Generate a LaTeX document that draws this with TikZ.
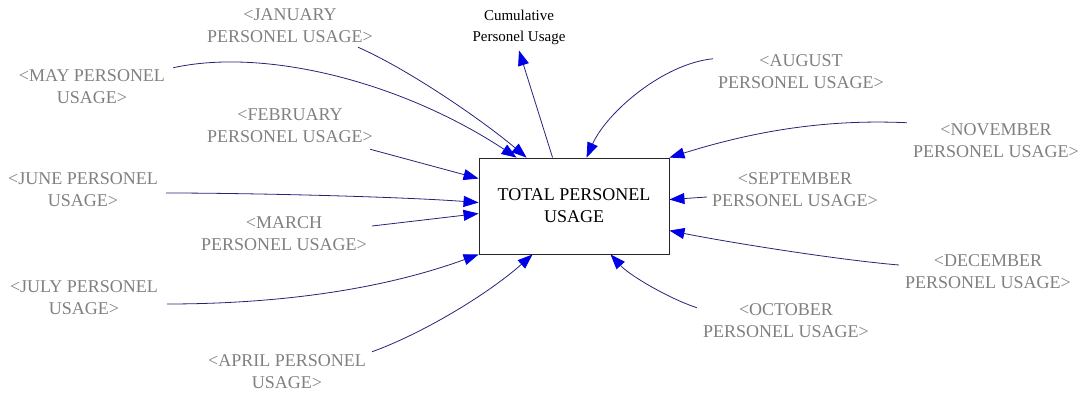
\documentclass[tikz,border=0pt]{standalone}
\usepackage{fontspec}
\setmainfont{Liberation Serif}
\usetikzlibrary{arrows.meta}
\definecolor{linkblue}{RGB}{36,36,120}
\definecolor{tipblue}{RGB}{0,0,230}
\definecolor{shadowgray}{RGB}{128,128,128}

\begin{document}
\begin{tikzpicture}[x=1pt,y=-1pt]
            \tikzstyle{every node}+=[inner sep=1pt]
            \tikzstyle{shadowvar}=[text=shadowgray, align=center, font=\fontsize{18}{22}\selectfont]
            \tikzstyle{link}=[draw=linkblue, line width=0.8pt, -{Triangle[length=15pt,width=11pt,color=tipblue]}]
            \useasboundingbox (0,0) rectangle (1084,395);
            % stock in the middle
            \node [draw=black!85, line width=0.9pt, minimum width=190pt, minimum height=96pt,
                   align=center, font=\fontsize{18}{22}\selectfont] (total) at (574,206) {TOTAL PERSONEL\\USAGE};
            \node [align=center, font=\fontsize{15}{21}\selectfont] (cum) at (519,27) {Cumulative\\Personel Usage};
            % monthly shadow variables
            \node [shadowvar] (jan) at (290,26) {<JANUARY\\PERSONEL USAGE>};
            \node [shadowvar] (may) at (92,87) {<MAY PERSONEL\\USAGE>};
            \node [shadowvar] (feb) at (290,126) {<FEBRUARY\\PERSONEL USAGE>};
            \node [shadowvar] (jun) at (83,190) {<JUNE PERSONEL\\USAGE>};
            \node [shadowvar] (mar) at (284,234) {<MARCH\\PERSONEL USAGE>};
            \node [shadowvar] (jul) at (84,298) {<JULY PERSONEL\\USAGE>};
            \node [shadowvar] (apr) at (287,372) {<APRIL PERSONEL\\USAGE>};
            \node [shadowvar] (aug) at (801,72) {<AUGUST\\PERSONEL USAGE>};
            \node [shadowvar] (nov) at (996,141) {<NOVEMBER\\PERSONEL USAGE>};
            \node [shadowvar] (sep) at (795,190) {<SEPTEMBER\\PERSONEL USAGE>};
            \node [shadowvar] (dec) at (988,272) {<DECEMBER\\PERSONEL USAGE>};
            \node [shadowvar] (oct) at (786,321) {<OCTOBER\\PERSONEL USAGE>};
            % links into the stock
            \draw [link] ([shift={(7,-1)}]may.north east) .. controls +(90,-20) and +(-117,-77) .. ([shift={(38,0)}]total.north west);
            \draw [link] ([shift={(-16,3)}]jan.south east) .. controls +(50,22) and +(-45,-38) .. ([shift={(48,0)}]total.north west);
            \draw [link] ([shift={(-4,5)}]feb.south east) -- ([shift={(0,21)}]total.north west);
            \draw [link] ([shift={(7,3)}]jun.east) .. controls +(80,0) and +(-80,-6) .. ([shift={(0,45)}]total.north west);
            \draw [link] ([shift={(4,-8)}]mar.east) -- ([shift={(0,56)}]total.north west);
            \draw [link] ([shift={(8,6)}]jul.east) .. controls +(90,0) and +(-110,40) .. (total.south west);
            \draw [link] ([shift={(5,-2)}]apr.north east) .. controls +(50,-18) and +(-45,40) .. ([shift={(54,0)}]total.south west);
            \draw [link] ([shift={(-4,5)}]aug.north west) .. controls +(-50,5) and +(20,-45) .. ([shift={(108,0)}]total.north west);
            \draw [link] ([shift={(-5,0)}]nov.north west) .. controls +(-85,-4) and +(80,-25) .. (total.north east);
            \draw [link] ([shift={(-4,7)}]sep.west) -- ([shift={(0,42)}]total.north east);
            \draw [link] ([shift={(-5,-7)}]dec.west) .. controls +(-60,-5) and +(60,12) .. ([shift={(0,73)}]total.north east);
            \draw [link] ([shift={(-5,5)}]oct.north west) .. controls +(-25,-8) and +(20,22) .. ([shift={(132,0)}]total.south west);
            % outflow to the cumulative variable
            \draw [link] ([shift={(74,0)}]total.north west) -- ([shift={(0,5)}]cum.south);
\end{tikzpicture}
\end{document}
